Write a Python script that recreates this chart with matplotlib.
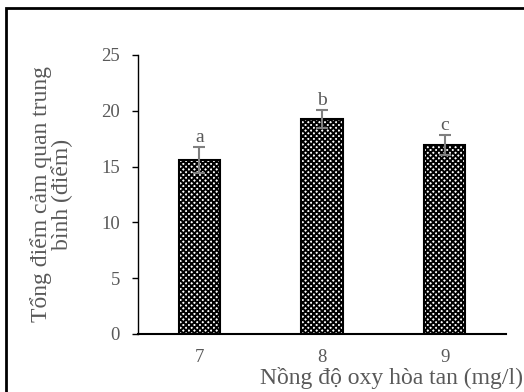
import matplotlib
matplotlib.use("Agg")
import matplotlib.pyplot as plt
from matplotlib.patches import Rectangle

plt.rcParams['font.family'] = ['Liberation Serif', 'DejaVu Serif']
plt.rcParams['hatch.linewidth'] = 1.4

categories = ["7", "8", "9"]
means = [15.6, 19.3, 16.9]
errors = [1.15, 0.8, 0.9]
letters = ["a", "b", "c"]
yticks = [0, 5, 10, 15, 20, 25]

gray = "#595959"

fig = plt.figure(figsize=(5.24, 3.92), dpi=100)
ax = fig.add_axes([0.2634, 0.148, 0.7023, 0.7117])

x = range(len(categories))
ax.bar(x, means, width=0.335, color="white", edgecolor="black",
       hatch="xxxxxx", linewidth=1.5, zorder=2)
ax.errorbar(x, means, yerr=errors, fmt="none", ecolor="#7f7f7f",
            elinewidth=1.5, capsize=4.5, capthick=1.5, zorder=3)
for xi, m, e, t in zip(x, means, errors, letters):
    ax.text(xi, m + e + 0.1, t, ha="center", va="bottom",
            fontsize=14, color=gray)

ax.set_xlim(-0.5, 2.5)
ax.set_ylim(0, 25)
ax.set_yticks(yticks)
ax.set_xticks(list(x))
ax.set_xticklabels(categories)
ax.tick_params(axis="y", direction="out", length=4, width=1,
               colors="black", labelcolor=gray, labelsize=13.5, pad=9)
ax.tick_params(axis="x", length=0, pad=11, labelcolor=gray, labelsize=13.5)
for s in ("top", "right"):
    ax.spines[s].set_visible(False)
ax.spines["left"].set_linewidth(1)
ax.spines["bottom"].set_linewidth(1.5)

ax.set_ylabel("Tổng điểm cảm quan trung\nbình (điểm)", fontsize=17,
              color=gray, linespacing=0.95, labelpad=20)
fig.text(391 / 524, 1 - 378 / 392, "Nồng độ oxy hòa tan (mg/l)",
         ha="center", va="center", fontsize=17, color=gray)

fig.add_artist(Rectangle((6 / 524, -0.1), 1.2, 1 - 8 / 392 + 0.1,
                         transform=fig.transFigure, fill=False,
                         edgecolor="black", linewidth=2))

fig.savefig("out.png", dpi=100)
